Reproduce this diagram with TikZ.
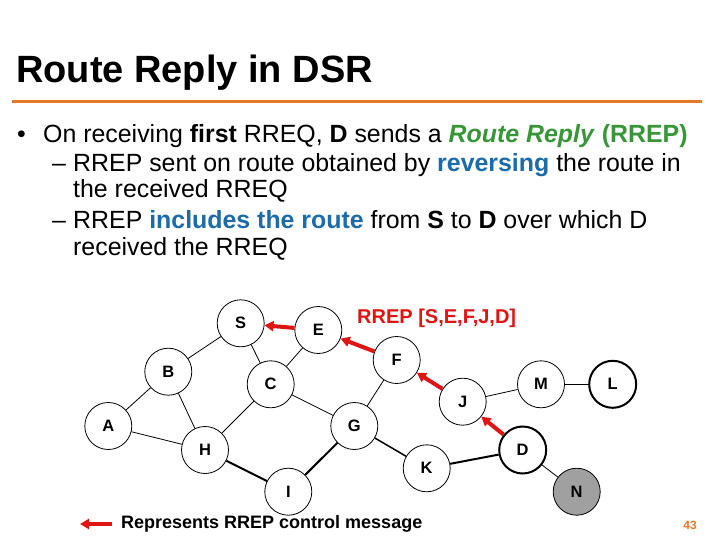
\documentclass[tikz,border=0pt]{standalone}
\usepackage{fontspec}
\setmainfont{Liberation Sans}
\usetikzlibrary{arrows.meta}
\definecolor{ttlorange}{RGB}{230,120,40}
\definecolor{rgreen}{RGB}{56,150,56}
\definecolor{rblue}{RGB}{28,107,171}
\definecolor{rred}{RGB}{225,20,20}
\definecolor{ngray}{RGB}{160,160,160}
\tikzset{
  txt/.style={anchor=base west, inner sep=0pt, font=\fontsize{24.9}{28}\selectfont},
  nd/.style={circle, draw, line width=0.8pt, minimum size=47pt, inner sep=0pt, font=\bfseries\fontsize{16.5}{16.5}\selectfont},
  ndthick/.style={nd, line width=2pt},
  ndgray/.style={nd, fill=ngray},
  edg/.style={line width=0.8pt},
  edgthick/.style={line width=2pt},
  rrep/.style={rred, line width=4pt, -{Triangle[length=9pt,width=10pt]}},
}
\begin{document}
\begin{tikzpicture}[x=1pt, y=-1pt]
\useasboundingbox (0,0) rectangle (720,540);
\fill[white] (0,0) rectangle (720,540);
% title
\node[anchor=base west, inner sep=0pt, font=\bfseries\fontsize{38}{40}\selectfont] (title) at (16,83) {Route Reply in DSR};
\coordinate (ol) at (12,102);
\coordinate (or) at (702,102);
\draw[ttlorange, line width=3pt] (ol) -- (or);
% body text
\node[txt] (b1) at (17,143) {\textbullet};
\node[txt] (l1) at (43,143) {On receiving \textbf{first} RREQ, \textbf{D} sends a \textcolor{rgreen}{\textbf{\textit{Route Reply}} \textbf{(RREP)}}};
\node[txt] (d2) at (52,172) {\textendash};
\node[txt] (l2) at (73,172) {RREP sent on route obtained by \textcolor{rblue}{\textbf{reversing}} the route in};
\node[txt] (l3) at (73,198) {the received RREQ};
\node[txt] (d4) at (52,229) {\textendash};
\node[txt] (l4) at (73,229) {RREP \textcolor{rblue}{\textbf{includes the route}} from \textbf{S} to \textbf{D} over which D};
\node[txt] (l5) at (73,255) {received the RREQ};
% nodes
\node[nd] (S) at (240.7,323.3) {S};
\node[nd] (E) at (318.3,330) {E};
\node[nd] (B) at (168.3,371.7) {B};
\node[nd] (C) at (270.7,384.3) {C};
\node[nd] (F) at (396.7,360) {F};
\node[nd] (J) at (462.7,401.7) {J};
\node[nd] (M) at (541,384.3) {M};
\node[ndthick] (L) at (612.7,384.3) {L};
\node[nd] (A) at (108.3,426) {A};
\node[nd] (G) at (354.3,426) {G};
\node[nd] (H) at (205,450) {H};
\node[nd] (K) at (426.7,468.3) {K};
\node[ndthick] (D) at (522.7,450) {D};
\node[nd] (I) at (288.3,491.7) {I};
\node[ndgray] (N) at (576.7,491.7) {N};
% edges
\draw[edg] (S) -- (B);
\draw[edg] (S) -- (C);
\draw[edg] (E) -- (C);
\draw[edg] (B) -- (A);
\draw[edg] (B) -- (H);
\draw[edg] (C) -- (H);
\draw[edg] (C) -- (G);
\draw[edg] (A) -- (H);
\draw[edg] (F) -- (G);
\draw[edgthick] (G) -- (I);
\draw[edgthick] (H) -- (I);
\draw[line width=1.5pt] (G) -- (K);
\draw[edgthick] (K) -- (D);
\draw[edg] (D) -- (N);
\draw[edg] (J) -- (M);
\draw[edg] (M) -- (L);
% RREP arrows
\draw[rrep] (E) -- (S);
\draw[rrep] (F) -- (E);
\draw[rrep] (J) -- (F);
\draw[rrep] (D) -- (J);
\node[anchor=base west, inner sep=0pt, text=rred, font=\bfseries\fontsize{20}{20}\selectfont] (lbl) at (357,323) {RREP [S,E,F,J,D]};
% legend
\coordinate (la) at (112,524);
\coordinate (lb) at (80,524);
\draw[rrep] (la) -- (lb);
\node[anchor=base west, inner sep=0pt, font=\bfseries\fontsize{18}{18}\selectfont] (leg) at (121,528) {Represents RREP control message};
% page number
\node[inner sep=0pt, text=ttlorange, font=\bfseries\fontsize{12}{12}\selectfont] (pg) at (690,525) {43};
\end{tikzpicture}
\end{document}
